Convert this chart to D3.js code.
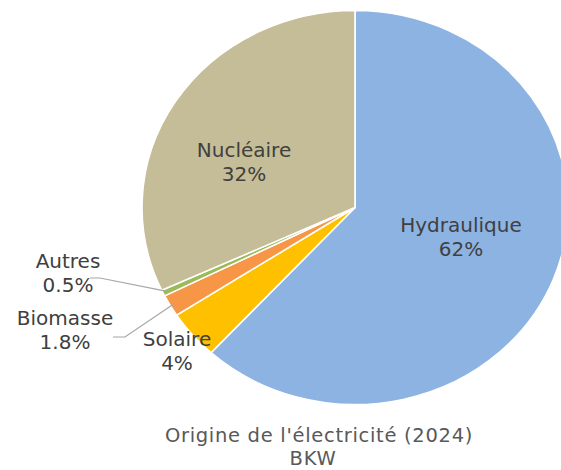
<!DOCTYPE html>
<meta charset="utf-8">
<style>
body { margin: 0; background: #fff; }
text { font-family: "DejaVu Sans", sans-serif; fill: #404040; }
.title { fill: #595959; font-size: 19.5px; letter-spacing: 0.7px; }
.lbl { font-size: 20px; }
</style>
<svg width="561" height="470"></svg>
<script src="https://d3js.org/d3.v7.min.js"></script>
<script>
// data, in draw order (clockwise from 12 o'clock)
var categories = ["Hydraulique", "Solaire", "Biomasse", "Autres", "Nucléaire"];
var values = [62, 4, 1.8, 0.5, 32];
var valueLabels = ["62%", "4%", "1.8%", "0.5%", "32%"];
var colors = ["#8db3e2", "#ffc000", "#f79646", "#9bbb59", "#c4bd97"];

var svg = d3.select("svg"),
    cx = 355, cy = 207.5,
    r = 197, stretch = 213 / 197;   // the original pie is slightly wider than tall

var pie = d3.pie().sort(null).value(function(d) { return d; });
var arcs = pie(values);
var arc = d3.arc().innerRadius(0).outerRadius(r);

var g = svg.append("g")
    .attr("transform", "translate(" + cx + "," + cy + ") scale(" + stretch + ",1)");

g.selectAll("path")
    .data(arcs)
  .enter().append("path")
    .attr("d", arc)
    .attr("fill", function(d, i) { return colors[i]; })
    .attr("stroke", "#fff")
    .attr("stroke-width", 1.5);

// point on the (stretched) pie at angle a, radius rr
function pt(a, rr) {
  return [cx + Math.sin(a) * rr * stretch, cy - Math.cos(a) * rr];
}

// label baselines (first line); leader lines start at the text and run to the slice
var place = {
  "Hydraulique": { pos: [461, 232] },
  "Nucléaire":   { pos: [244, 157] },
  "Solaire":     { pos: [177, 346] },
  "Biomasse":    { pos: [65, 325], line: [[113, 337], [125, 337]] },
  "Autres":      { pos: [68, 268], line: [[90, 278], [100, 278]] }
};

categories.forEach(function(c, i) {
  var p = place[c];
  var t = svg.append("text")
      .attr("class", "lbl")
      .attr("text-anchor", "middle")
      .attr("x", p.pos[0]).attr("y", p.pos[1]);
  t.append("tspan").attr("x", p.pos[0]).text(c);
  t.append("tspan").attr("x", p.pos[0]).attr("dy", 23.5).text(valueLabels[i]);

  if (p.line) {
    var a = (arcs[i].startAngle + arcs[i].endAngle) / 2;
    var edge = pt(a, r - 4);
    svg.append("polyline")
        .attr("points", [p.line[0], p.line[1], edge].map(function(q) { return q.join(","); }).join(" "))
        .attr("fill", "none")
        .attr("stroke", "#a6a6a6")
        .attr("stroke-width", 1.2);
  }
});

svg.append("text").attr("class", "title")
    .attr("text-anchor", "middle")
    .attr("x", 319).attr("y", 442)
    .text("Origine de l'électricité (2024)");
svg.append("text").attr("class", "title")
    .attr("text-anchor", "middle")
    .attr("x", 313).attr("y", 465)
    .text("BKW");
</script>
